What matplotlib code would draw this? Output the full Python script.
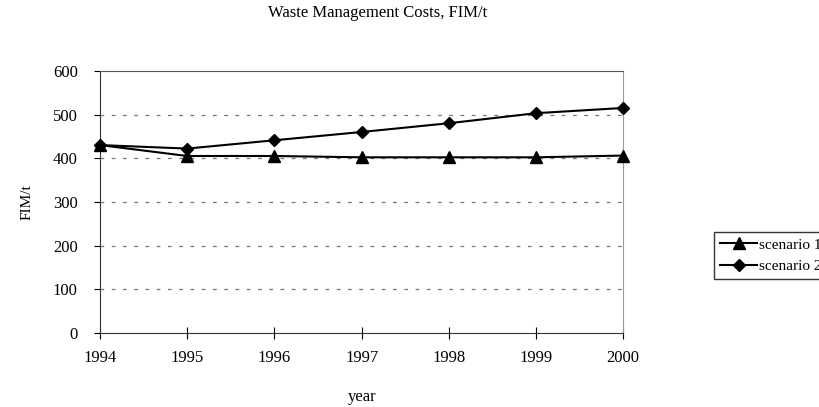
import matplotlib.pyplot as plt

# data
years = [1994, 1995, 1996, 1997, 1998, 1999, 2000]
scenario1 = [430, 405, 405, 402, 402, 402, 406]
scenario2 = [430, 422, 441, 460, 480, 503, 515]
yticks = [0, 100, 200, 300, 400, 500, 600]

plt.rcParams['font.family'] = ['Liberation Serif', 'DejaVu Serif']


def main():
    fig = plt.figure(figsize=(8.2, 4.07), dpi=100)
    ax = fig.add_axes([0.122, 0.182, 0.638, 0.644])

    ax.plot(years, scenario1, 'k-', marker='^', markersize=8, lw=1.5,
            label='scenario 1', clip_on=False, zorder=3)
    ax.plot(years, scenario2, 'k-', marker='D', markersize=6.5, lw=1.5,
            label='scenario 2', clip_on=False, zorder=3)

    ax.set_xlim(1994, 2000)
    ax.set_ylim(0, 600)
    ax.set_xticks(years)
    ax.set_yticks(yticks)
    ax.tick_params(axis='y', direction='out', length=4, labelsize=12, pad=12)
    ax.tick_params(axis='x', direction='inout', length=8, labelsize=12, pad=8)

    # dashed grid lines
    for v in yticks[1:-1]:
        ax.axhline(v, color='#777777', lw=0.9, ls=(0, (3, 6)), zorder=1)

    ax.spines['top'].set_color('#555555')
    ax.spines['right'].set_color('#999999')
    ax.spines['left'].set_color('#333333')
    ax.spines['bottom'].set_color('#333333')

    fig.text(0.461, 0.968, 'Waste Management Costs, FIM/t',
             ha='center', va='center', fontsize=12)
    ax.set_xlabel('year', fontsize=12, labelpad=17)
    ax.set_ylabel('FIM/t', fontsize=11, labelpad=14)

    leg = fig.legend(loc='upper left', bbox_to_anchor=(0.871, 0.43),
                     fontsize=11, frameon=True, fancybox=False,
                     handlelength=2.4, handletextpad=0.1, borderpad=0.4,
                     labelspacing=0.5, borderaxespad=0)
    leg.get_frame().set_edgecolor('black')
    leg.get_frame().set_linewidth(1.0)

    fig.savefig('out.png', dpi=100)


if __name__ == "__main__":
    main()
